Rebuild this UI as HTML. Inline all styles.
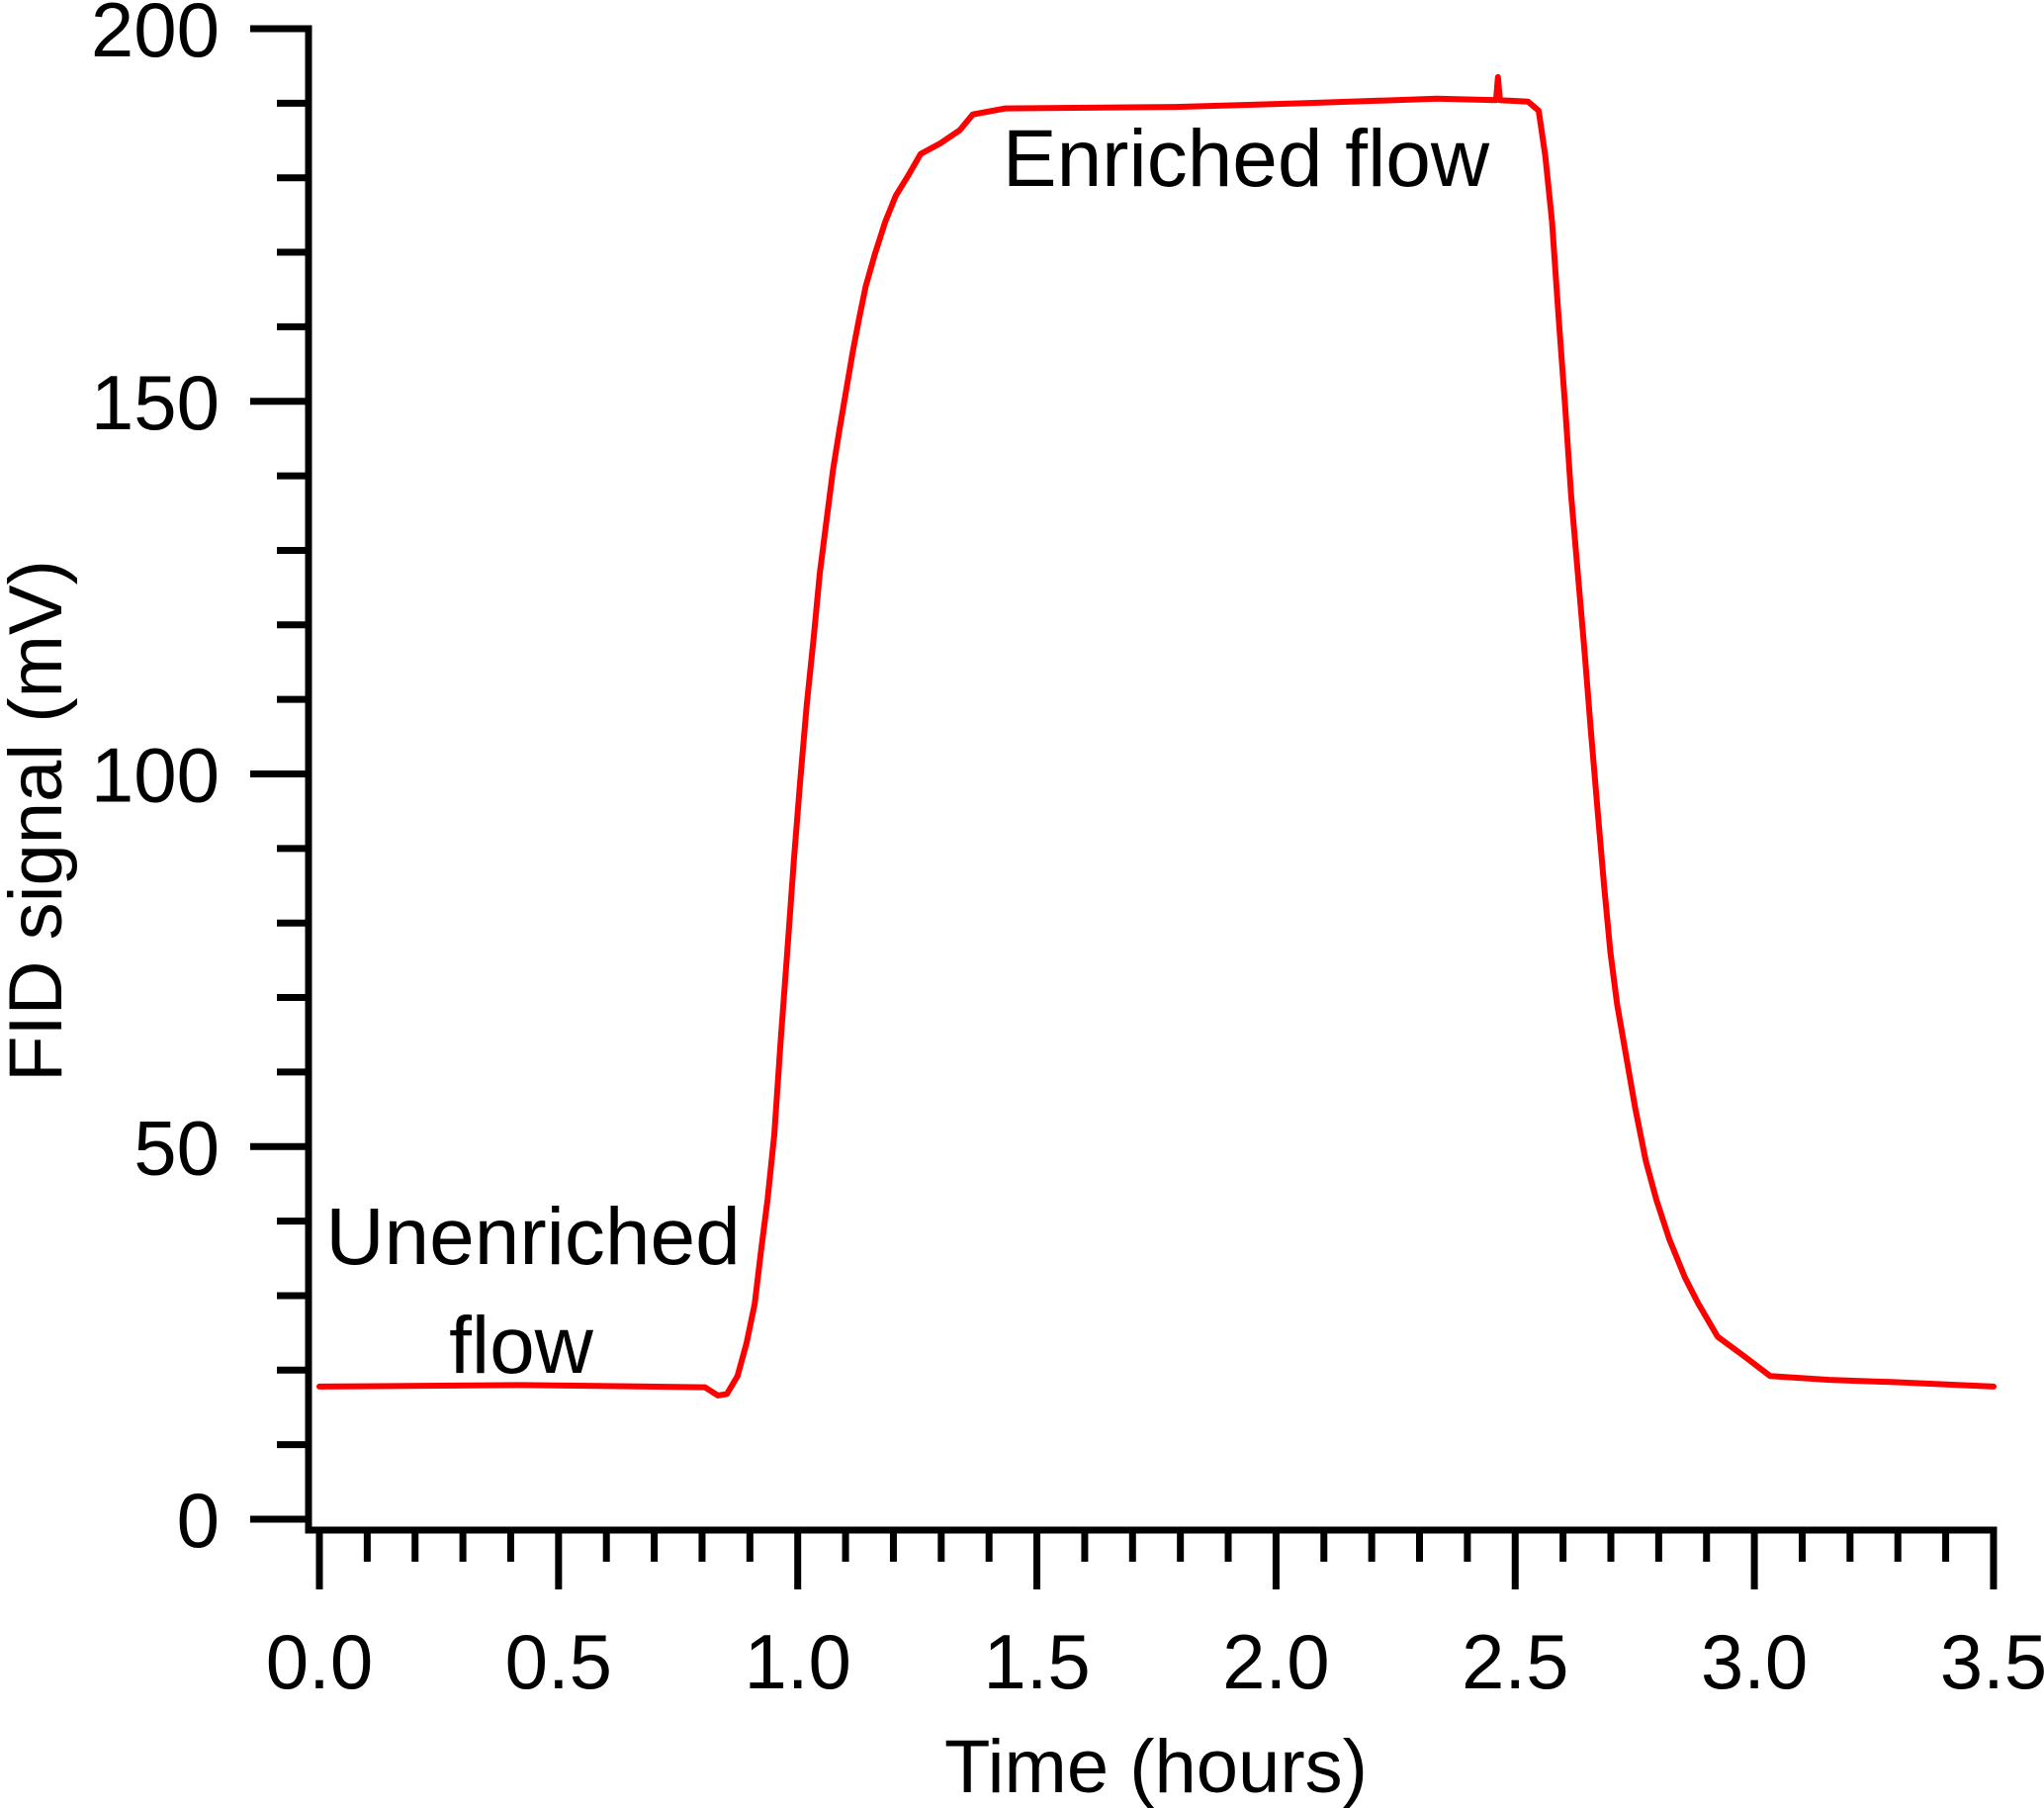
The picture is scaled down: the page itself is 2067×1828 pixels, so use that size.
<!DOCTYPE html>
<html><head><meta charset="utf-8"><style>
html,body{margin:0;padding:0;background:#fff;}
svg{display:block;}
text{font-family:"Liberation Sans",Arial,sans-serif;fill:#000;}
</style></head><body>
<svg id="chart" width="2067" height="1828" viewBox="0 0 2067 1828" xmlns="http://www.w3.org/2000/svg">
<g id="axes"></g>
<g id="plot"></g>
<text x="1260" y="188" font-size="82" text-anchor="middle">Enriched flow</text>
<text x="539" y="1278" font-size="82" text-anchor="middle">Unenriched</text>
<text x="527" y="1388" font-size="82" text-anchor="middle">flow</text>
<text x="1169" y="1812" font-size="76" text-anchor="middle">Time (hours)</text>
<text transform="translate(62,830) rotate(-90)" font-size="76" text-anchor="middle">FID signal (mV)</text>
</svg>
<script>
const timeHours = [0,0.424,0.806,0.833,0.852,0.874,0.893,0.910,0.923,0.937,0.951,0.964,0.978,0.992,1.005,1.019,1.033,1.046,1.060,1.074,1.087,1.101,1.115,1.128,1.142,1.161,1.183,1.205,1.230,1.257,1.298,1.339,1.366,1.434,1.790,2.063,2.336,2.460,2.464,2.468,2.527,2.549,2.563,2.577,2.590,2.604,2.617,2.631,2.645,2.658,2.672,2.686,2.699,2.713,2.732,2.751,2.773,2.795,2.822,2.855,2.883,2.923,2.978,3.033,3.156,3.292,3.5];
const signalMv = [17.8,18.0,17.7,16.6,16.8,19.2,23.6,28.9,35.9,42.9,51.6,63.9,76.1,88.4,98.9,109.4,118.1,126.9,133.9,140.9,146.1,151.4,156.6,161.0,165.4,169.7,174.1,177.6,180.2,183.2,184.6,186.4,188.5,189.3,189.5,190.0,190.6,190.4,193.5,190.4,190.2,189.0,182.9,174.1,161.9,149.6,137.4,126.9,116.4,105.9,95.4,84.9,76.1,69.1,62.1,55.1,48.1,42.9,37.6,32.4,28.9,24.5,21.9,19.2,18.7,18.4,17.8];
const xTickLabels = ["0.0","0.5","1.0","1.5","2.0","2.5","3.0","3.5"];
const yTickLabels = ["0","50","100","150","200"];
const NS="http://www.w3.org/2000/svg";
function X(h){return 323+h*483.7;}
function Y(v){return 1536-v*7.535;}
const axes=document.getElementById('axes');
const plot=document.getElementById('plot');
function mk(tag,attrs,parent){const e=document.createElementNS(NS,tag);for(const k in attrs)e.setAttribute(k,attrs[k]);parent.appendChild(e);return e;}
let yl=mk('line',{x1:312,y1:25.5,x2:312,y2:1550,stroke:'#000','stroke-width':7},axes);


let xl=mk('line',{x1:308.5,y1:1547,x2:2019.5,y2:1547,stroke:'#000','stroke-width':7},axes);


for(let v=0;v<=200;v+=10){
  const major=v%50===0;
  const t=mk('line',{x1:major?253:280,y1:Y(v),x2:312,y2:Y(v),stroke:'#000','stroke-width':7},axes);
  
  
}
yTickLabels.forEach(s=>{
  const t=mk('text',{x:222,y:Y(+s)+28,'font-size':78,'text-anchor':'end'},axes);
  t.textContent=s;
  
  
});
for(let i=0;i<=35;i++){
  const h=i/10,major=i%5===0;
  const t=mk('line',{x1:X(h),y1:1547,x2:X(h),y2:major?1607:1579,stroke:'#000','stroke-width':7},axes);
  
  
}
xTickLabels.forEach(s=>{
  const t=mk('text',{x:X(+s),y:1707,'font-size':78,'text-anchor':'middle'},axes);
  t.textContent=s;
  
  
});
const d=timeHours.map((h,i)=>(i?'L':'M')+X(h).toFixed(1)+','+Y(signalMv[i]).toFixed(1)).join(' ');
const p=mk('path',{d:d,fill:'none',stroke:'#ff0000','stroke-width':6,'stroke-linejoin':'round','stroke-linecap':'round'},plot);


</script>
</body></html>
